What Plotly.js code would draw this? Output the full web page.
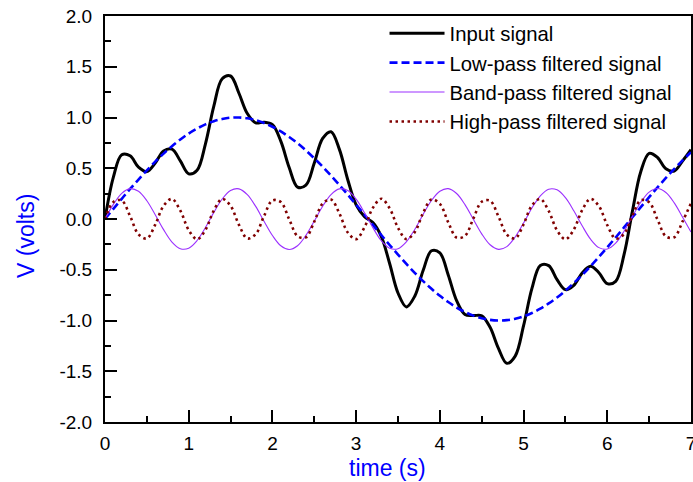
<!DOCTYPE html>
<html>
<head>
<meta charset="utf-8">
<script src="https://cdn.plot.ly/plotly-3.0.1.min.js"></script>
<style>html,body{margin:0;padding:0;background:#fff}#chart{width:693px;height:482px}</style>
</head>
<body>
<div id="chart"></div>
<script>
// time samples (s)
var timeS = [0,0.1,0.2,0.3,0.4,0.5,0.6,0.7,0.8,0.9,
  1.0,1.1,1.2,1.3,1.4,1.5,1.6,1.7,1.8,1.9,
  2.0,2.1,2.2,2.3,2.4,2.5,2.6,2.7,2.8,2.9,
  3.0,3.1,3.2,3.3,3.4,3.5,3.6,3.7,3.8,3.9,
  4.0,4.1,4.2,4.3,4.4,4.5,4.6,4.7,4.8,4.9,
  5.0,5.1,5.2,5.3,5.4,5.5,5.6,5.7,5.8,5.9,
  6.0,6.1,6.2,6.3,6.4,6.5,6.6,6.7,6.8,6.9,7.0];

var inputSignal = [0,.412,.633,.623,.511,.467,.551,.670,.688,.572,
  .445,.480,.741,1.112,1.381,1.409,1.239,1.039,.947,.954,
  .929,.767,.507,.314,.333,.552,.794,.860,.686,.387,
  .139,.023,-.035,-.171,-.438,-.729,-.866,-.761,-.508,-.313,
  -.334,-.551,-.804,-.941,-.951,-.954,-1.067,-1.275,-1.422,-1.351,
  -1.051,-.684,-.457,-.459,-.598,-.696,-.654,-.531,-.465,-.529,
  -.637,-.614,-.352,.076,.466,.646,.606,.495,.473,.573,.683];

var lowPass = [0,.100,.199,.296,.389,.479,.565,.644,.717,.783,
  .842,.891,.932,.964,.985,.998,1.000,.992,.974,.946,
  .909,.863,.808,.746,.676,.598,.516,.427,.335,.239,
  .141,.042,-.058,-.158,-.256,-.351,-.443,-.530,-.612,-.688,
  -.757,-.818,-.872,-.916,-.952,-.978,-.994,-1.000,-.996,-.983,
  -.959,-.926,-.884,-.832,-.773,-.706,-.631,-.551,-.465,-.374,
  -.279,-.182,-.083,.017,.117,.215,.312,.405,.494,.578,.657];

var bandPass = [0,.144,.253,.299,.273,.180,.042,-.105,-.227,-.293,
  -.288,-.212,-.084,.065,.197,.281,.297,.240,.124,-.023,
  -.163,-.264,-.300,-.263,-.161,-.020,.126,.241,.297,.281,
  .195,.062,-.086,-.214,-.288,-.293,-.225,-.103,.045,.182,
  .274,.299,.251,.142,-.003,-.146,-.254,-.299,-.272,-.177,
  -.040,.108,.229,.294,.287,.210,.081,-.067,-.199,-.282,
  -.296,-.238,-.121,.025,.165,.265,.300,.261,.159,.017,-.128];

var highPass = [0,.168,.182,.028,-.151,-.192,-.056,.131,.198,.082,
  -.109,-.200,-.107,.084,.198,.130,-.058,-.192,-.150,.030,
  .183,.167,-.002,-.169,-.181,-.026,.153,.191,.054,-.133,
  -.198,-.081,.110,.200,.106,-.086,-.198,-.129,.059,.193,
  .149,-.032,-.183,-.166,.004,.170,.180,.025,-.154,-.191,
  -.052,.134,.197,.079,-.112,-.200,-.104,.087,.199,.127,
  -.061,-.193,-.148,.033,.184,.165,-.005,-.171,-.180,-.023,.155];

var seriesNames = ['Input signal','Low-pass filtered signal','Band-pass filtered signal','High-pass filtered signal'];

var xTickVals = [0,1,2,3,4,5,6,7];
var xTickText = ['0','1','2','3','4','5','6','7'];
var yTickVals = [-2,-1.5,-1,-0.5,0,0.5,1,1.5,2];
var yTickText = ['-2.0','-1.5','-1.0','-0.5','0.0','0.5','1.0','1.5','2.0'];

var FONT = 'Liberation Sans, Arial, Helvetica, sans-serif';

var traces = [
  {x: timeS, y: inputSignal, name: seriesNames[0], mode: 'lines',
   line: {color: '#000000', width: 3, shape: 'spline', smoothing: 1}},
  {x: timeS, y: lowPass, name: seriesNames[1], mode: 'lines',
   line: {color: '#0000ff', width: 2.6, dash: '8px,4px', shape: 'spline', smoothing: 1}},
  {x: timeS, y: bandPass, name: seriesNames[2], mode: 'lines',
   line: {color: '#9b30ff', width: 1.1, shape: 'spline', smoothing: 1}},
  {x: timeS, y: highPass, name: seriesNames[3], mode: 'lines',
   line: {color: '#800000', width: 2.6, dash: '2.5px,3.5px', shape: 'spline', smoothing: 1}}
];

var axisCommon = {
  showline: true, linewidth: 2, linecolor: '#000', mirror: true,
  ticks: 'inside', ticklen: 12, tickwidth: 2, tickcolor: '#000',
  showgrid: false, zeroline: false,
  tickfont: {family: FONT, size: 19, color: '#000'},
  tickmode: 'array', ticklabeloverflow: 'allow'
};

var layout = {
  width: 693, height: 482,
  margin: {l: 105, r: 2, t: 16, b: 60},
  paper_bgcolor: '#fff', plot_bgcolor: '#fff',
  showlegend: true,
  legend: {x: 0.477, y: 1.006, xanchor: 'left', yanchor: 'top',
    bgcolor: 'rgba(0,0,0,0)', borderwidth: 0,
    font: {family: FONT, size: 20.3, color: '#000'}, itemwidth: 55},
  xaxis: Object.assign({}, axisCommon, {
    range: [0, 7], tickvals: xTickVals, ticktext: xTickText, ticklabelstandoff: 3,
    minor: {tickmode: 'linear', tick0: 0, dtick: 0.5, ticks: 'inside', ticklen: 6, tickwidth: 2, tickcolor: '#000', showgrid: false}
  }),
  yaxis: Object.assign({}, axisCommon, {
    range: [-2, 2], tickvals: yTickVals, ticktext: yTickText, ticklabelstandoff: 7,
    minor: {tickmode: 'linear', tick0: 0, dtick: 0.25, ticks: 'inside', ticklen: 6, tickwidth: 2, tickcolor: '#000', showgrid: false}
  }),
  annotations: [
    {text: 'time (s)', xref: 'paper', yref: 'paper', x: 0.482, y: -0.114,
     xanchor: 'center', yanchor: 'middle', showarrow: false,
     font: {family: FONT, size: 23, color: '#0000ff'}},
    {text: 'V (volts)', xref: 'paper', yref: 'paper', x: -0.135, y: 0.458,
     xanchor: 'center', yanchor: 'middle', showarrow: false, textangle: -90,
     font: {family: FONT, size: 23, color: '#0000ff'}}
  ]
};

Plotly.newPlot('chart', traces, layout, {displayModeBar: false, staticPlot: true});
</script>
</body>
</html>
